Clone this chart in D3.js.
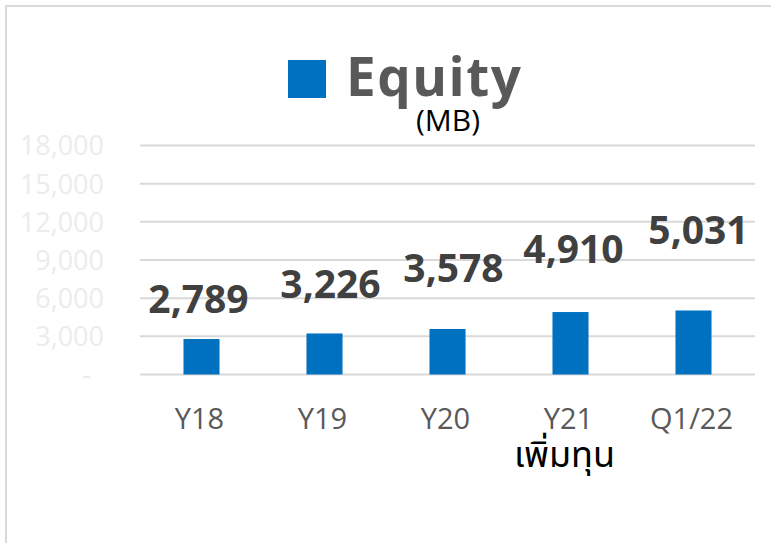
<!DOCTYPE html>
<html>
<head>
<meta charset="utf-8">
<script src="https://cdn.jsdelivr.net/npm/d3@7"></script>
<style>
  html, body { margin: 0; padding: 0; background: #fff; }
  svg { display: block; }
</style>
</head>
<body>
<svg id="chart" width="771" height="543"></svg>
<script>
// Equity by period (million baht)
const categories = ["Y18", "Y19", "Y20", "Y21", "Q1/22"];
const equity = [2789, 3226, 3578, 4910, 5031];
const yTicks = [0, 3000, 6000, 9000, 12000, 15000, 18000];
const seriesName = "Equity";
const unitLabel = "(MB)";
const noteLabel = "เพิ่มทุน";   // capital increase, noted under Y21
const noteCategory = "Y21";

// Hand-placed value labels: lift above bar top (px) and horizontal nudge
const labelLift = [26, 35, 47, 49, 66];
const labelNudge = [-3, 6, 6, 3, 5];

const svg = d3.select("#chart");
const W = 771, H = 543;

svg.append("rect").attr("width", W).attr("height", H).attr("fill", "#fff");

// chart area border (extends past the visible edges)
svg.append("rect")
  .attr("x", 6).attr("y", 6)
  .attr("width", W + 20).attr("height", H + 20)
  .attr("fill", "none")
  .attr("stroke", "#d9d9d9")
  .attr("stroke-width", 2);

const x = d3.scaleBand()
  .domain(categories)
  .range([140, 755])
  .paddingInner(0.707)
  .paddingOuter(0.3535);

const y = d3.scaleLinear()
  .domain([0, 18000])
  .range([374.5, 145.5]);

// gridlines
svg.append("g")
  .selectAll("line")
  .data(yTicks)
  .join("line")
  .attr("x1", 140).attr("x2", 755)
  .attr("y1", d => y(d)).attr("y2", d => y(d))
  .attr("stroke", "#d9d9d9")
  .attr("stroke-width", 2);

// y axis labels
const yAxis = d3.axisLeft(y)
  .tickValues(yTicks)
  .tickSize(0)
  .tickPadding(0)
  .tickFormat(d => d === 0 ? "-" : d3.format(",")(d));

const gy = svg.append("g")
  .attr("transform", "translate(104,0)")
  .call(yAxis);
gy.select(".domain").remove();
gy.selectAll("text")
  .attr("font-family", "'Open Sans', sans-serif")
  .attr("font-size", 27)
  .attr("fill", "#ececec")
  .attr("dy", "0.35em")
  .attr("dx", d => d === 0 ? -13 : 0);

// bars
svg.append("g")
  .selectAll("rect")
  .data(equity)
  .join("rect")
  .attr("x", (d, i) => x(categories[i]))
  .attr("width", x.bandwidth())
  .attr("y", d => y(d))
  .attr("height", d => y(0) - y(d))
  .attr("fill", "#0070c0");

// value labels
svg.append("g")
  .selectAll("text")
  .data(equity)
  .join("text")
  .attr("x", (d, i) => x(categories[i]) + x.bandwidth() / 2 + labelNudge[i])
  .attr("y", (d, i) => y(d) - labelLift[i])
  .attr("text-anchor", "middle")
  .attr("font-family", "'Open Sans', sans-serif")
  .attr("font-weight", 700)
  .attr("font-size", 39)
  .attr("fill", "#404040")
  .text(d => d3.format(",")(d));

// x axis labels
const xAxis = d3.axisBottom(x).tickSize(0).tickPadding(0);
const gx = svg.append("g")
  .attr("transform", "translate(-2,429)")
  .call(xAxis);
gx.select(".domain").remove();
gx.selectAll("text")
  .attr("dy", 0)
  .attr("font-family", "'Open Sans', sans-serif")
  .attr("font-size", 29)
  .attr("fill", "#595959");

// note under Y21
svg.append("text")
  .attr("x", x(noteCategory) + x.bandwidth() / 2 - 6)
  .attr("y", 467)
  .attr("text-anchor", "middle")
  .attr("font-family", "'Noto Sans Thai', 'Leelawadee UI', Tahoma, 'DejaVu Sans', sans-serif")
  .attr("font-size", 36)
  .attr("fill", "#000")
  .text(noteLabel);

// legend
svg.append("rect")
  .attr("x", 288).attr("y", 60)
  .attr("width", 38).attr("height", 38)
  .attr("fill", "#0070c0");

svg.append("text")
  .attr("x", 346).attr("y", 96)
  .attr("font-family", "'Open Sans', sans-serif")
  .attr("font-weight", 700)
  .attr("font-size", 53)
  .attr("letter-spacing", 1.5)
  .attr("fill", "#595959")
  .text(seriesName);

svg.append("text")
  .attr("x", 448).attr("y", 131)
  .attr("text-anchor", "middle")
  .attr("font-family", "'Open Sans', sans-serif")
  .attr("font-size", 30)
  .attr("fill", "#000")
  .text(unitLabel);
</script>
</body>
</html>
